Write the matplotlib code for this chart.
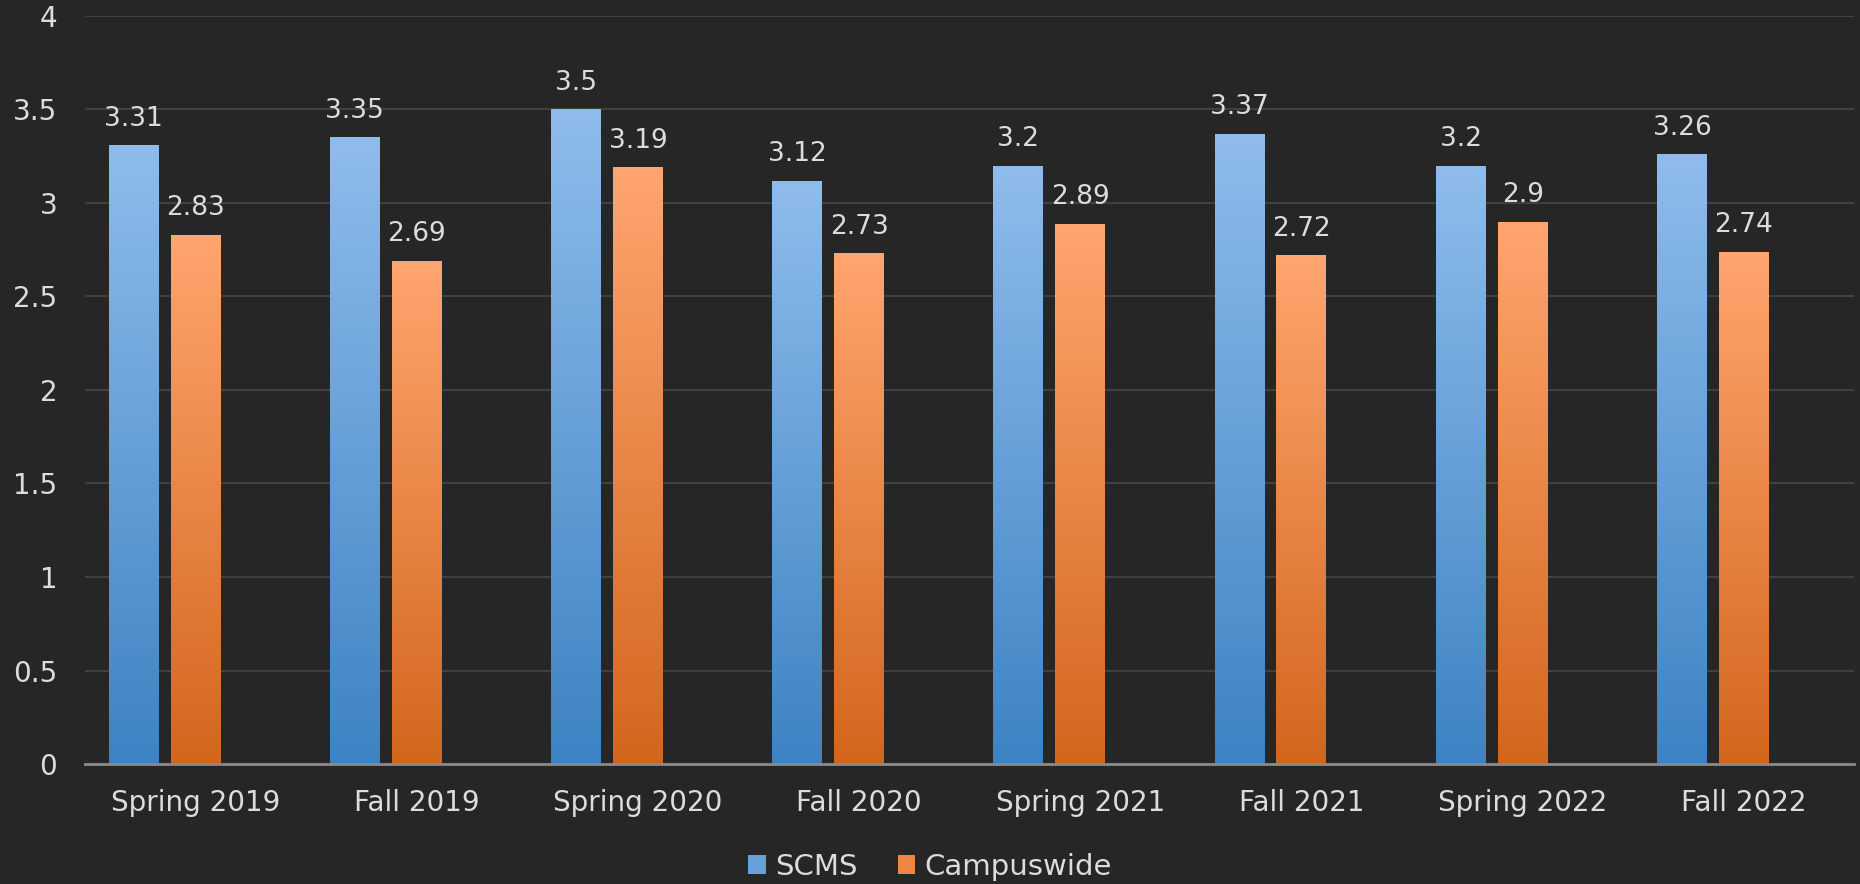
import numpy as np
import matplotlib.pyplot as plt
import matplotlib.colors as mcolors
from matplotlib.patches import Patch

plt.rcParams['font.family'] = ['DejaVu Sans']

terms = ['Spring 2019', 'Fall 2019', 'Spring 2020', 'Fall 2020',
         'Spring 2021', 'Fall 2021', 'Spring 2022', 'Fall 2022']
scms = [3.31, 3.35, 3.5, 3.12, 3.2, 3.37, 3.2, 3.26]
campus = [2.83, 2.69, 3.19, 2.73, 2.89, 2.72, 2.9, 2.74]
yticks = [0, 0.5, 1, 1.5, 2, 2.5, 3, 3.5, 4]
ytick_labels = ['0', '0.5', '1', '1.5', '2', '2.5', '3', '3.5', '4']

bg = '#262626'
txt = '#dcdcdc'
blue_cm = mcolors.LinearSegmentedColormap.from_list('b', ['#3d83c3', '#8fbcec'])
orange_cm = mcolors.LinearSegmentedColormap.from_list('o', ['#d3661d', '#ffa56f'])

fig = plt.figure(figsize=(18.6, 8.84), dpi=100, facecolor=bg)
ax = fig.add_axes([0.0457, 0.1357, 0.9513, 0.8463])
ax.set_facecolor(bg)

x = np.arange(len(terms))
w = 0.226
off = 0.28
grad = np.linspace(0, 1, 256).reshape(-1, 1)

def grad_bars(xpos, vals, cmap):
    bars = ax.bar(xpos, vals, width=w, color='none', zorder=3)
    for b in bars:
        x0, y0 = b.get_x(), b.get_y()
        im = ax.imshow(grad, cmap=cmap, origin='lower', aspect='auto',
                       extent=(x0, x0 + b.get_width(), y0, y0 + b.get_height()),
                       zorder=3)
        im.set_clip_path(b)
    for xi, v in zip(xpos, vals):
        ax.annotate('{:g}'.format(v), (xi, v), xytext=(0, 14), textcoords='offset points',
                    ha='center', va='baseline', color=txt, fontsize=19)

grad_bars(x - off, scms, blue_cm)
grad_bars(x, campus, orange_cm)

ax.set_xlim(-0.5, len(terms) - 0.5)
ax.set_ylim(0, 4)
ax.set_yticks(yticks)
ax.set_yticklabels(ytick_labels)
ax.set_xticks(x)
ax.set_xticklabels(terms)
ax.tick_params(axis='both', length=0, colors=txt, labelsize=20)
ax.tick_params(axis='y', pad=20)
ax.tick_params(axis='x', pad=18)
ax.grid(axis='y', color='#404040', linewidth=1.5, zorder=0)
for s in ['top', 'right', 'left']:
    ax.spines[s].set_visible(False)
ax.spines['bottom'].set_color('#8a8a8a')
ax.spines['bottom'].set_linewidth(2)
ax.spines['bottom'].set_zorder(4)

handles = [Patch(facecolor='#66a0d8', label='SCMS'),
           Patch(facecolor='#ec8646', label='Campuswide')]
leg = fig.legend(handles=handles, loc='lower center', bbox_to_anchor=(0.5, -0.026), ncol=2,
                 frameon=False, fontsize=21, handlelength=0.6, handleheight=0.6,
                 handletextpad=0.3, columnspacing=1.4)
for t in leg.get_texts():
    t.set_color(txt)

plt.savefig('out.png', facecolor=bg)
plt.close()
